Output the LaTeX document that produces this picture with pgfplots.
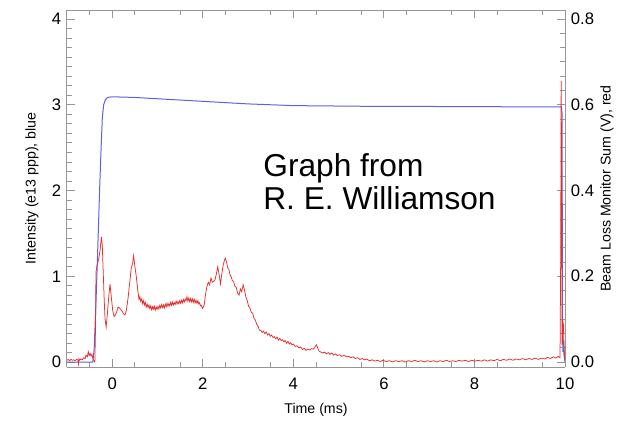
\documentclass[border=0pt]{standalone}
\usepackage{pgfplots}
\pgfplotsset{compat=1.18}
\usepackage{fontspec}
\setmainfont{Liberation Sans}
\definecolor{axgray}{RGB}{150,150,150}
\definecolor{bluel}{RGB}{95,95,225}
\definecolor{redl}{RGB}{232,45,45}
\begin{document}
\begin{tikzpicture}
\useasboundingbox (-40.2pt,-34.2pt) rectangle (330.6pt,220.2pt);
\pgfplotsset{
  common/.style={
    scale only axis, width=298.8pt, height=214.2pt,
    xmin=-1, xmax=10,
    tick align=inside,
    axis line style={axgray, line width=0.6pt},
    every tick/.style={axgray, line width=0.5pt},
    major tick length=5pt, minor tick length=3pt,
    tick label style={font=\fontsize{10}{12}\selectfont},
    label style={font=\fontsize{8.5}{10}\selectfont},
    /pgf/number format/assume math mode=true,
  }
}
\begin{axis}[common,
  ymin=-0.058, ymax=4.105,
  axis y line*=left,
  xtick={0,2,4,6,8,10},
  minor xtick={-0.5,0.5,1.5,2.5,3.5,4.5,5.5,6.5,7.5,8.5,9.5},
  ytick={0,1,2,3,4},
  minor y tick num=8,
  xticklabel style={yshift=-3pt},
  xlabel={Time (ms)},
  ylabel={Intensity (e13 ppp), blue},
  xlabel style={at={(axis description cs:0.5,-0.12)}, anchor=center},
  ylabel style={at={(axis description cs:-0.0703,0.5)}, anchor=center, rotate=0},
]
\addplot[bluel, line width=0.6pt] coordinates {
(-1.00,0.0) (-0.60,0.0) (-0.43,0.0) (-0.40,0.15) (-0.37,0.55) (-0.34,1.0)
(-0.31,1.5) (-0.28,2.0) (-0.25,2.45) (-0.22,2.85) (-0.19,3.0) (-0.15,3.06)
(-0.10,3.085) (-0.05,3.09) (0.0,3.092) (0.2,3.09) (0.5,3.085) (1.0,3.07)
(1.5,3.055) (2.0,3.04) (2.5,3.025) (3.0,3.01) (3.5,3.0) (4.0,2.99)
(5.0,2.985) (6.0,2.98) (7.0,2.98) (8.0,2.978) (9.0,2.976) (9.5,2.975)
(9.92,2.975) (9.935,2.9) (9.945,0.3) (9.955,0.12) (9.965,0.26) (9.975,0.1) (9.99,0.03) (10.0,0.0)
};
\node[anchor=north west, inner sep=0pt, align=left,
  font=\fontsize{19}{19.5}\selectfont] at (axis cs:3.33,2.43)
  {Graph from\\R. E. Williamson};
\end{axis}
\begin{axis}[common,
  ymin=-0.0117, ymax=0.821,
  axis y line*=right, axis x line=none,
  ytick={0,0.2,0.4,0.6,0.8},
  minor y tick num=5,
  yticklabel style={/pgf/number format/.cd, fixed, fixed zerofill, precision=1},
  ylabel={Beam Loss Monitor Sum (V), red},
  ylabel style={at={(axis description cs:1.0843,0.5)}, anchor=center, rotate=0},
]
\addplot[redl, line width=0.45pt] coordinates {
(-1.00,0.004) (-0.97,0.006) (-0.94,0.003) (-0.91,0.006) (-0.88,0.004) (-0.85,0.005)
(-0.82,0.003) (-0.79,0.006) (-0.76,0.005) (-0.745,-0.005) (-0.735,0.007) (-0.72,0.004)
(-0.69,0.007) (-0.66,0.005) (-0.63,0.010) (-0.60,0.008) (-0.58,0.016) (-0.55,0.012)
(-0.53,0.024) (-0.51,0.015) (-0.49,0.020) (-0.47,0.014) (-0.45,0.018) (-0.43,0.008)
(-0.40,0.002) (-0.385,0.0) (-0.37,0.08) (-0.36,0.21) (-0.33,0.228) (-0.30,0.24)
(-0.27,0.26) (-0.24,0.292) (-0.22,0.27) (-0.20,0.21) (-0.18,0.15) (-0.16,0.10)
(-0.135,0.082) (-0.11,0.11) (-0.08,0.15) (-0.05,0.182) (-0.02,0.15) (0.01,0.12)
(0.04,0.106) (0.07,0.11) (0.10,0.118) (0.13,0.128) (0.16,0.126) (0.19,0.122)
(0.22,0.118) (0.25,0.112) (0.28,0.110) (0.31,0.12) (0.35,0.15) (0.39,0.19)
(0.42,0.22) (0.45,0.23) (0.47,0.248) (0.49,0.232) (0.51,0.214) (0.53,0.20)
(0.56,0.17) (0.59,0.146) (0.61,0.152) (0.63,0.141) (0.65,0.147) (0.67,0.136)
(0.69,0.143) (0.71,0.133) (0.73,0.139) (0.75,0.128) (0.77,0.135) (0.79,0.127)
(0.81,0.133) (0.83,0.124) (0.85,0.131) (0.87,0.122) (0.89,0.129) (0.91,0.123)
(0.93,0.130) (0.95,0.121) (0.97,0.128) (0.99,0.123) (1.01,0.130) (1.03,0.124)
(1.05,0.132) (1.07,0.126) (1.09,0.134) (1.11,0.127) (1.13,0.133) (1.15,0.126)
(1.17,0.135) (1.19,0.129) (1.21,0.137) (1.23,0.130) (1.25,0.136) (1.27,0.131)
(1.29,0.139) (1.31,0.132) (1.33,0.140) (1.35,0.133) (1.37,0.138) (1.39,0.134)
(1.41,0.142) (1.43,0.135) (1.45,0.141) (1.47,0.136) (1.49,0.143) (1.51,0.137)
(1.53,0.144) (1.55,0.138) (1.57,0.146) (1.59,0.140) (1.61,0.147) (1.63,0.143)
(1.65,0.152) (1.67,0.142) (1.69,0.149) (1.71,0.141) (1.73,0.148) (1.75,0.140)
(1.77,0.147) (1.79,0.139) (1.81,0.146) (1.83,0.138) (1.85,0.144) (1.87,0.137)
(1.89,0.143) (1.91,0.135) (1.93,0.138) (1.95,0.131) (1.97,0.132) (1.99,0.125)
(2.01,0.128) (2.03,0.133) (2.06,0.158) (2.09,0.176) (2.12,0.186) (2.15,0.180)
(2.18,0.196) (2.21,0.186) (2.24,0.188) (2.27,0.192) (2.30,0.206) (2.33,0.222)
(2.36,0.204) (2.39,0.182) (2.42,0.206) (2.45,0.226) (2.48,0.238) (2.50,0.242)
(2.53,0.230) (2.55,0.220) (2.58,0.214) (2.60,0.204) (2.63,0.198) (2.65,0.190)
(2.68,0.188) (2.71,0.176) (2.74,0.174) (2.77,0.160) (2.80,0.156) (2.83,0.170)
(2.86,0.164) (2.89,0.180) (2.92,0.168) (2.95,0.152) (2.98,0.144) (3.01,0.130)
(3.04,0.126) (3.07,0.116) (3.10,0.114) (3.13,0.102) (3.16,0.098) (3.19,0.088)
(3.22,0.084) (3.25,0.074) (3.28,0.074) (3.31,0.069) (3.34,0.072) (3.37,0.066)
(3.40,0.070) (3.43,0.063) (3.46,0.066) (3.49,0.060) (3.52,0.063) (3.55,0.057)
(3.58,0.059) (3.61,0.054) (3.64,0.058) (3.67,0.051) (3.70,0.055) (3.73,0.050)
(3.76,0.052) (3.79,0.047) (3.82,0.050) (3.85,0.044) (3.88,0.048) (3.91,0.042)
(3.94,0.045) (3.97,0.040) (4.00,0.042) (4.04,0.036) (4.08,0.038) (4.12,0.033)
(4.16,0.035) (4.20,0.029) (4.24,0.032) (4.28,0.027) (4.32,0.030) (4.36,0.028)
(4.40,0.031) (4.44,0.030) (4.48,0.036) (4.51,0.040) (4.54,0.032) (4.57,0.025)
(4.61,0.023) (4.65,0.021) (4.69,0.023) (4.73,0.019) (4.77,0.022) (4.81,0.018)
(4.85,0.021) (4.89,0.016) (4.93,0.019) (4.97,0.015) (5.02,0.017) (5.07,0.013)
(5.12,0.016) (5.17,0.012) (5.22,0.013) (5.27,0.010) (5.32,0.012) (5.37,0.008)
(5.42,0.010) (5.47,0.006) (5.52,0.008) (5.57,0.005) (5.62,0.007) (5.68,0.003)
(5.74,0.005) (5.80,0.002) (5.86,0.004) (5.92,0.001) (5.98,0.004) (6.05,0.001)
(6.12,0.003) (6.19,0.000) (6.26,0.003) (6.33,0.001) (6.40,0.003) (6.47,0.000)
(6.54,0.003) (6.61,0.001) (6.68,0.004) (6.75,0.001) (6.82,0.003) (6.89,0.000)
(6.96,0.003) (7.03,0.001) (7.10,0.003) (7.17,0.000) (7.24,0.003) (7.31,0.001)
(7.38,0.004) (7.45,0.001) (7.52,0.003) (7.59,0.001) (7.66,0.004) (7.73,0.002)
(7.80,0.004) (7.87,0.001) (7.94,0.004) (8.01,0.002) (8.08,0.004) (8.15,0.002)
(8.22,0.005) (8.29,0.002) (8.36,0.005) (8.43,0.003) (8.50,0.006) (8.57,0.003)
(8.64,0.006) (8.71,0.004) (8.78,0.007) (8.85,0.004) (8.92,0.007) (8.99,0.005)
(9.06,0.008) (9.13,0.005) (9.20,0.008) (9.27,0.006) (9.34,0.009) (9.41,0.006)
(9.48,0.009) (9.55,0.007) (9.62,0.011) (9.68,0.008) (9.74,0.012) (9.80,0.009)
(9.85,0.013) (9.89,0.010) (9.905,0.25) (9.915,0.655) (9.925,0.45) (9.935,0.04) (9.945,0.06)
(9.955,0.092) (9.965,0.088) (9.975,0.05) (9.99,0.015) (10.0,0.005)
};
\end{axis}
\end{tikzpicture}
\end{document}
